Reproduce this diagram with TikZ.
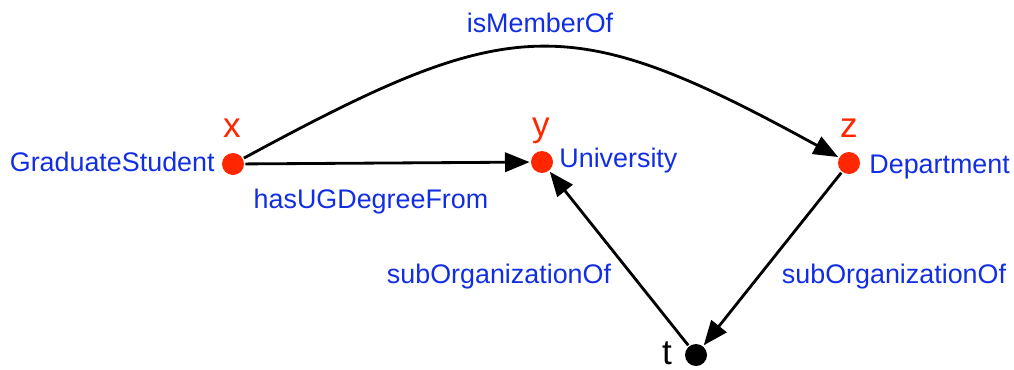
\documentclass[tikz,border=0pt]{standalone}
\usepackage{fontspec}
\setmainfont{Liberation Sans}
\usetikzlibrary{arrows.meta}
\definecolor{varred}{RGB}{255,38,0}
\definecolor{propblue}{RGB}{18,46,226}
\tikzset{>/.tip={Triangle[length=14pt,width=11pt]},
  var/.style={circle,fill=varred,inner sep=0pt,minimum size=0.44cm},
  blank/.style={var,fill=black},
  prop/.style={text=propblue,font=\fontsize{15.3}{18}\selectfont,inner sep=0pt,anchor=base},
  varname/.style={text=varred,font=\fontsize{20}{24}\selectfont,inner sep=0pt,anchor=base}}

\begin{document}
\begin{tikzpicture}[x=0.02cm,y=-0.02cm,line width=1.6pt]
\useasboundingbox (0,0) rectangle (1014,369);
% variables
\node[var] (x) at (233,164) {};
\node[var] (y) at (542,162) {};
\node[var] (z) at (849,163) {};
\node[blank] (t) at (696,355) {};
\node[varname] (xn) at (232,137) {x};
\node[varname] (yn) at (541,136) {y};
\node[varname] (zn) at (849,137) {z};
\node[varname,text=black] (tn) at (667,364) {t};
% classes
\node[prop,anchor=base east] (gs) at (216,171) {GraduateStudent};
\node[prop,anchor=base west] (uni) at (558,167) {University};
\node[prop,anchor=base west] (dep) at (868,173) {Department};
% properties
\node[prop] (mem) at (540,32) {isMemberOf};
\node[prop] (ug) at (371,208) {hasUGDegreeFrom};
\node[prop] (sub1) at (499,283) {subOrganizationOf};
\node[prop] (sub2) at (894,283) {subOrganizationOf};
\draw[->] (x) to (y);
\draw[->] (x) .. controls (512,13) and (568,9) .. (z);
\draw[->] (t) to (y);
\draw[->] (z) to (t);
\end{tikzpicture}
\end{document}
